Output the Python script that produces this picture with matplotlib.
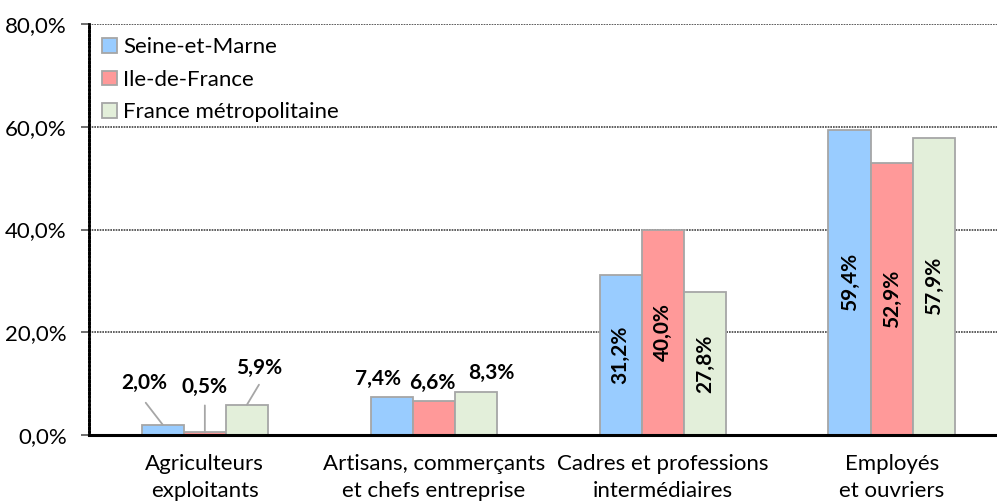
import matplotlib
matplotlib.use('Agg')
import matplotlib.pyplot as plt
import numpy as np

categories = ['Agriculteurs\nexploitants',
              'Artisans, commerçants\net chefs entreprise',
              'Cadres et professions\nintermédiaires',
              'Employés\net ouvriers']
series_names = ['Seine-et-Marne', 'Ile-de-France', 'France métropolitaine']
seine_et_marne = [2.0, 7.4, 31.2, 59.4]
ile_de_france = [0.5, 6.6, 40.0, 52.9]
france_metro = [5.9, 8.3, 27.8, 57.9]
y_ticks = [0, 20, 40, 60, 80]

colors = ['#99CCFF', '#FF9999', '#E3EFDA']
edge = '#A6A6A6'

plt.rcParams['font.family'] = ['Lato', 'DejaVu Sans']


def fmt(v):
    return ('%.1f' % v).replace('.', ',') + '%'


fig = plt.figure(figsize=(9.97, 5.04), dpi=100)
ax = fig.add_axes([89 / 997, 1 - 435 / 504, 908 / 997, 411 / 504])

x = np.arange(len(categories))
width = 0.184
series = [seine_et_marne, ile_de_france, france_metro]
for i, (vals, name) in enumerate(zip(series, series_names)):
    ax.bar(x + (i - 1) * width, vals, width, color=colors[i],
           edgecolor=edge, linewidth=1.3, label=name, zorder=3)

# labels above small bars (first two groups), offsets in pixels
label_offsets = {
    (0, 0): (-18, 42), (0, 1): (0, 45), (0, 2): (12, 37),
    (1, 0): (-14, 18), (1, 1): (-1, 18), (1, 2): (15, 19),
}
for (g, s), (dx, dy) in label_offsets.items():
    v = series[s][g]
    xc = x[g] + (s - 1) * width
    ax.annotate(fmt(v), xy=(xc, v), xytext=(dx, dy),
                textcoords='offset pixels', ha='center', va='center',
                fontsize=15, fontweight='bold', zorder=5)

# leader lines for the first group
leaders = [((0, 0), (-17, 22)), ((0, 1), (0, 27)), ((0, 2), (12, 20))]
for (g, s), (x1, y1) in leaders:
    v = series[s][g]
    xc = x[g] + (s - 1) * width
    ax.annotate('', xy=(xc, v), xytext=(x1, y1), textcoords='offset pixels',
                arrowprops=dict(arrowstyle='-', color=edge, lw=1.3,
                                shrinkA=0, shrinkB=0),
                zorder=4)

# rotated labels inside the big bars
for g in (2, 3):
    for s in range(3):
        v = series[s][g]
        xc = x[g] + (s - 1) * width
        ax.text(xc, v / 2, fmt(v), rotation=90, ha='center', va='center',
                fontsize=15, fontweight='bold', zorder=5)

ax.set_xlim(-0.506, 3.46)
ax.set_ylim(0, 80)
ax.set_yticks(y_ticks)
ax.set_yticklabels([fmt(t) for t in y_ticks], fontsize=16)
ax.set_xticks(x)
ax.set_xticklabels(categories, fontsize=16, linespacing=1.4)
ax.tick_params(axis='x', length=0, pad=14)
ax.tick_params(axis='y', length=6, width=1.2, pad=10, color='#555555')

ax.yaxis.grid(True, color='#444444', linestyle=(0, (1, 0.6)), linewidth=1.2,
              zorder=0)
for sp in ('top', 'right'):
    ax.spines[sp].set_visible(False)
ax.spines['left'].set_linewidth(2)
ax.spines['left'].set_linestyle((0, (1, 0.4)))
ax.spines['left'].set_zorder(4)
ax.spines['bottom'].set_linewidth(2.2)
ax.spines['bottom'].set_color('black')
ax.spines['bottom'].set_zorder(6)

ax.legend(loc='upper left', bbox_to_anchor=(0.0, 1.0), frameon=False,
          fontsize=16, handlelength=0.65, handleheight=0.65,
          handletextpad=0.3, labelspacing=0.56, borderaxespad=0.2,
          borderpad=0.4)

fig.savefig('out.png', dpi=100)
